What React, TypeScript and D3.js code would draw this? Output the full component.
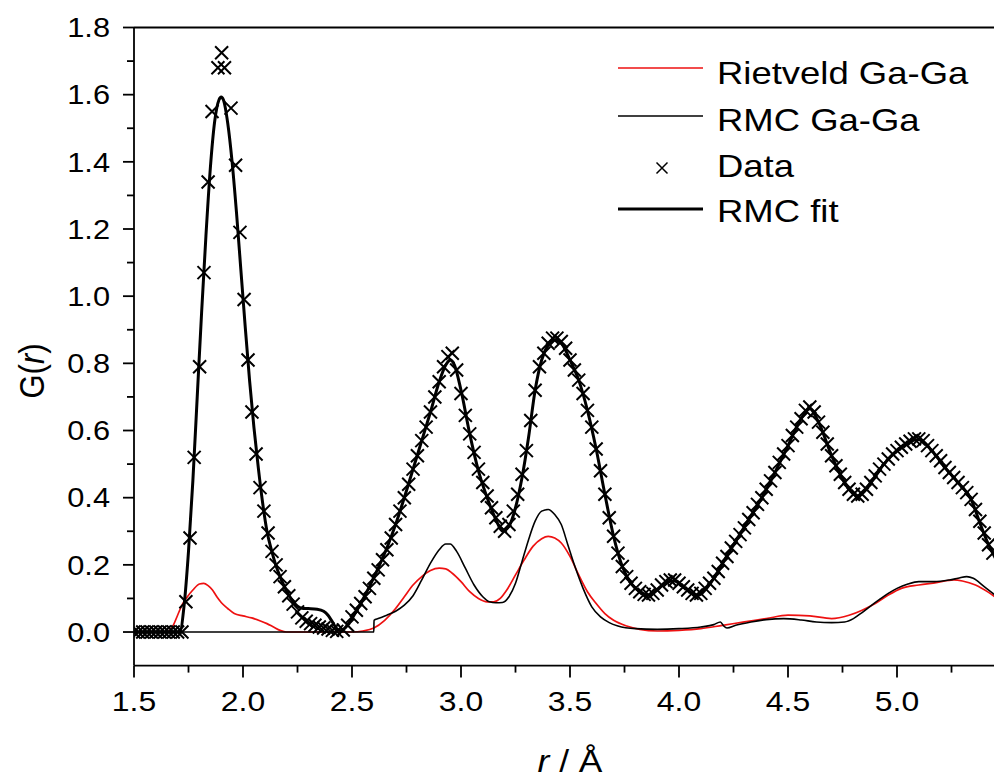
import React from 'react';
import * as d3 from 'd3';

// ---- axis ticks ----
const xMajorTicks = [1.5, 2.0, 2.5, 3.0, 3.5, 4.0, 4.5, 5.0];
const xMajorLabels = ['1.5', '2.0', '2.5', '3.0', '3.5', '4.0', '4.5', '5.0'];
const xMinorTicks = [1.75, 2.25, 2.75, 3.25, 3.75, 4.25, 4.75, 5.25];
const yMajorTicks = [0, 0.2, 0.4, 0.6, 0.8, 1.0, 1.2, 1.4, 1.6, 1.8];
const yMajorLabels = ['0.0', '0.2', '0.4', '0.6', '0.8', '1.0', '1.2', '1.4', '1.6', '1.8'];
const yMinorTicks = [0.1, 0.3, 0.5, 0.7, 0.9, 1.1, 1.3, 1.5, 1.7];

// ---- Data: measured G(r) ----
const dataR = [
  1.50, 1.52, 1.54, 1.56, 1.58, 1.60, 1.62, 1.64, 1.66, 1.68, 1.70, 1.72,
  1.738, 1.757, 1.776, 1.801, 1.821, 1.840, 1.858, 1.885, 1.902, 1.915, 1.945, 1.966,
  1.986, 2.005, 2.023, 2.041, 2.060, 2.078, 2.096, 2.115, 2.133, 2.152,
  2.17, 2.19, 2.21, 2.23, 2.25, 2.27, 2.29, 2.31, 2.33, 2.35, 2.37, 2.39, 2.41, 2.43,
  2.46, 2.48, 2.50, 2.52, 2.54, 2.56, 2.58, 2.60, 2.62, 2.64, 2.66, 2.68, 2.70, 2.72,
  2.74, 2.76, 2.78, 2.80, 2.82, 2.84, 2.86, 2.88, 2.90, 2.92, 2.94, 2.96, 2.98, 3.00,
  3.02, 3.04, 3.06, 3.08, 3.10, 3.12, 3.14, 3.16, 3.18, 3.20, 3.22, 3.24, 3.26, 3.28,
  3.30, 3.32, 3.34, 3.36, 3.38, 3.40, 3.42, 3.44, 3.46, 3.48, 3.50, 3.52, 3.54, 3.56,
  3.58, 3.60, 3.62, 3.64, 3.66, 3.68, 3.70, 3.72, 3.74, 3.76, 3.78, 3.80, 3.82, 3.84,
  3.86, 3.88, 3.90, 3.92, 3.94, 3.96, 3.98, 4.00, 4.02, 4.04, 4.06, 4.08, 4.10, 4.12,
  4.14, 4.16, 4.18, 4.20, 4.22, 4.24, 4.26, 4.28, 4.30, 4.32, 4.34, 4.36, 4.38, 4.40,
  4.42, 4.44, 4.46, 4.48, 4.50, 4.52, 4.54, 4.56, 4.58, 4.60, 4.62, 4.64, 4.66, 4.68,
  4.70, 4.72, 4.74, 4.76, 4.78, 4.80, 4.82, 4.84, 4.86, 4.88, 4.90, 4.92, 4.94, 4.96,
  4.98, 5.00, 5.02, 5.04, 5.06, 5.08, 5.10, 5.12, 5.14, 5.16, 5.18, 5.20, 5.22, 5.24,
  5.26, 5.28, 5.30, 5.32, 5.34, 5.36, 5.38, 5.40, 5.42, 5.44,
];
const dataG = [
  0, 0, 0, 0, 0, 0, 0, 0, 0, 0, 0, 0,
  0.09, 0.28, 0.52, 0.79, 1.07, 1.34, 1.55, 1.68, 1.725, 1.68, 1.56, 1.39,
  1.19, 0.99, 0.81, 0.655, 0.53, 0.43, 0.36, 0.295, 0.24, 0.20,
  0.165, 0.135, 0.108, 0.083, 0.06, 0.042, 0.032, 0.025, 0.02, 0.015, 0.012, 0.009, 0.005, 0.002,
  0.006, 0.02, 0.045, 0.065, 0.085, 0.105, 0.13, 0.16, 0.185, 0.215, 0.245, 0.28, 0.32, 0.36,
  0.40, 0.44, 0.485, 0.525, 0.57, 0.61, 0.655, 0.70, 0.745, 0.79, 0.82, 0.83, 0.78, 0.71,
  0.645, 0.59, 0.535, 0.485, 0.445, 0.405, 0.37, 0.34, 0.315, 0.30, 0.32, 0.36, 0.41, 0.47,
  0.54, 0.63, 0.72, 0.79, 0.83, 0.86, 0.875, 0.875, 0.865, 0.845, 0.81, 0.78, 0.75, 0.71,
  0.66, 0.61, 0.545, 0.48, 0.41, 0.34, 0.285, 0.235, 0.195, 0.165, 0.145, 0.13, 0.12, 0.112,
  0.11, 0.115, 0.125, 0.14, 0.15, 0.155, 0.155, 0.145, 0.135, 0.125, 0.115, 0.11, 0.115, 0.13,
  0.145, 0.16, 0.18, 0.205, 0.225, 0.25, 0.27, 0.29, 0.31, 0.335, 0.355, 0.38, 0.40, 0.425,
  0.45, 0.475, 0.505, 0.53, 0.555, 0.585, 0.61, 0.635, 0.66, 0.67, 0.655, 0.625, 0.595, 0.56,
  0.525, 0.495, 0.47, 0.445, 0.425, 0.41, 0.405, 0.41, 0.425, 0.445, 0.465, 0.485, 0.50, 0.515,
  0.53, 0.54, 0.55, 0.56, 0.568, 0.575, 0.575, 0.57, 0.555, 0.54, 0.525, 0.51, 0.49, 0.475,
  0.46, 0.445, 0.43, 0.415, 0.395, 0.365, 0.33, 0.295, 0.26, 0.235,
];

// ---- RMC fit ----
const fitR = [
  1.50, 1.70, 1.71, 1.73, 1.75, 1.77, 1.79, 1.81, 1.83, 1.85, 1.87, 1.89, 1.90, 1.91,
  1.93, 1.95, 1.97, 1.99, 2.01, 2.03, 2.05, 2.07, 2.09, 2.11, 2.13, 2.15, 2.17, 2.19,
  2.21, 2.23, 2.25, 2.27, 2.30, 2.34, 2.37, 2.39, 2.41, 2.43, 2.45, 2.47, 2.50, 2.54,
  2.58, 2.62, 2.66, 2.70, 2.74, 2.78, 2.82, 2.86, 2.90, 2.93, 2.95, 2.97, 3.00, 3.04,
  3.08, 3.12, 3.16, 3.19, 3.22, 3.25, 3.28, 3.31, 3.34, 3.37, 3.40, 3.43, 3.46, 3.50,
  3.54, 3.58, 3.62, 3.66, 3.70, 3.74, 3.78, 3.82, 3.86, 3.90, 3.94, 3.98, 4.02, 4.06,
  4.09, 4.12, 4.16, 4.20, 4.26, 4.32, 4.38, 4.44, 4.50, 4.56, 4.60, 4.64, 4.70, 4.76,
  4.82, 4.88, 4.94, 5.00, 5.06, 5.10, 5.16, 5.22, 5.28, 5.34, 5.38, 5.42, 5.46,
];
const fitG = [
  0, 0, 0.0, 0.08, 0.24, 0.45, 0.70, 0.95, 1.18, 1.38, 1.52, 1.585, 1.593, 1.585,
  1.515, 1.40, 1.25, 1.08, 0.91, 0.75, 0.61, 0.49, 0.385, 0.30, 0.245, 0.20, 0.165, 0.135,
  0.11, 0.09, 0.077, 0.071, 0.07, 0.068, 0.062, 0.05, 0.03, 0.01, 0.004, 0.014, 0.04, 0.085,
  0.135, 0.19, 0.25, 0.32, 0.40, 0.485, 0.57, 0.655, 0.745, 0.795, 0.81, 0.795, 0.72, 0.59,
  0.48, 0.40, 0.335, 0.30, 0.315, 0.37, 0.46, 0.58, 0.72, 0.81, 0.855, 0.87, 0.86, 0.81,
  0.75, 0.66, 0.545, 0.41, 0.285, 0.195, 0.145, 0.12, 0.11, 0.125, 0.148, 0.152, 0.135, 0.115,
  0.11, 0.125, 0.16, 0.205, 0.27, 0.335, 0.40, 0.475, 0.555, 0.635, 0.665, 0.625, 0.525, 0.445,
  0.405, 0.445, 0.50, 0.54, 0.568, 0.573, 0.54, 0.49, 0.445, 0.395, 0.325, 0.26, 0.21,
];

// ---- Rietveld Ga-Ga partial ----
const rietR = [
  1.50, 1.65, 1.68, 1.70, 1.72, 1.745, 1.77, 1.80, 1.82, 1.84, 1.86, 1.88, 1.90, 1.93,
  1.96, 2.00, 2.04, 2.08, 2.11, 2.14, 2.17, 2.20, 2.30, 2.40, 2.50, 2.55, 2.60, 2.65,
  2.70, 2.74, 2.78, 2.82, 2.86, 2.90, 2.93, 2.96, 3.00, 3.04, 3.08, 3.12, 3.15, 3.18,
  3.21, 3.25, 3.29, 3.33, 3.37, 3.40, 3.43, 3.46, 3.50, 3.54, 3.58, 3.62, 3.66, 3.70,
  3.76, 3.82, 3.90, 4.00, 4.10, 4.20, 4.30, 4.40, 4.50, 4.60, 4.70, 4.78, 4.84, 4.90,
  4.96, 5.02, 5.10, 5.18, 5.26, 5.30, 5.36, 5.42, 5.46,
];
const rietG = [
  0, 0, 0.02, 0.05, 0.08, 0.105, 0.125, 0.143, 0.145, 0.138, 0.125, 0.105, 0.088, 0.07,
  0.055, 0.048, 0.042, 0.033, 0.025, 0.015, 0.005, 0.0, 0.0, 0.0, 0.0, 0.003, 0.012, 0.035,
  0.07, 0.105, 0.14, 0.165, 0.183, 0.19, 0.188, 0.175, 0.15, 0.12, 0.10, 0.09, 0.09, 0.10,
  0.125, 0.17, 0.215, 0.255, 0.278, 0.285, 0.28, 0.265, 0.225, 0.17, 0.12, 0.085, 0.055, 0.035,
  0.018, 0.008, 0.003, 0.005, 0.01, 0.02, 0.03, 0.04, 0.05, 0.048, 0.04, 0.05, 0.065, 0.085,
  0.11, 0.13, 0.14, 0.147, 0.155, 0.152, 0.14, 0.118, 0.10,
];

// ---- RMC Ga-Ga partial ----
const rmcR = [
  1.50, 2.60, 2.601, 2.62, 2.66, 2.70, 2.74, 2.78, 2.82, 2.86, 2.90, 2.93, 2.95, 2.98,
  3.02, 3.06, 3.10, 3.13, 3.16, 3.19, 3.22, 3.25, 3.28, 3.31, 3.34, 3.37, 3.40, 3.43,
  3.46, 3.49, 3.52, 3.56, 3.60, 3.64, 3.68, 3.72, 3.80, 3.90, 4.00, 4.10, 4.16, 4.19,
  4.205, 4.22, 4.26, 4.33, 4.40, 4.48, 4.56, 4.63, 4.70, 4.76, 4.80, 4.84, 4.88, 4.92,
  4.96, 5.00, 5.05, 5.10, 5.17, 5.24, 5.28, 5.32, 5.35, 5.40, 5.44, 5.46,
];
const rmcG = [
  0, 0, 0.035, 0.04, 0.05, 0.062, 0.08, 0.108, 0.155, 0.205, 0.245, 0.262, 0.262, 0.24,
  0.19, 0.14, 0.105, 0.09, 0.087, 0.088, 0.105, 0.145, 0.21, 0.275, 0.33, 0.36, 0.365, 0.35,
  0.32, 0.26, 0.20, 0.13, 0.075, 0.045, 0.028, 0.018, 0.01, 0.008, 0.01, 0.015, 0.022, 0.03,
  0.018, 0.012, 0.02, 0.03, 0.037, 0.04, 0.036, 0.03, 0.028, 0.03, 0.04, 0.058, 0.078, 0.097,
  0.115, 0.13, 0.143, 0.15, 0.15, 0.155, 0.16, 0.165, 0.16, 0.135, 0.115, 0.105,
];

const legendLabels = ['Rietveld Ga-Ga', 'RMC Ga-Ga', 'Data', 'RMC fit'];

const FONT = '"Liberation Sans", Arial, Helvetica, sans-serif';
const SX = 1.14; // horizontal text stretch

const W = 994;
const H = 779;
const PL = 134;
const PR = 1006;
const PT = 27.5;
const PB = 665.6;

function SText(props: {
  x: number; y: number; size: number; anchor?: string; rotate?: boolean; children: React.ReactNode;
}) {
  const { x, y, size, anchor = 'start', rotate = false, children } = props;
  const t = rotate
    ? `translate(${x},${y}) rotate(-90) scale(1,${SX})`
    : `translate(${x},${y}) scale(${SX},1)`;
  return (
    <g transform={t}>
      <text textAnchor={anchor as any} fontSize={size} fontFamily={FONT} fill="#000">
        {children}
      </text>
    </g>
  );
}

export default function App() {
  const x = d3.scaleLinear().domain([1.5, 5.5]).range([PL, PR]);
  const y = d3.scaleLinear().domain([-0.1, 1.8]).range([PB, PT]);

  const mkLine = (rs: number[], gs: number[]) =>
    d3
      .line<number>()
      .x((_, i) => x(rs[i]))
      .y((g) => y(g))
      .curve(d3.curveMonotoneX)(gs) || '';

  const rietPath = mkLine(rietR, rietG);
  const rmcPath = mkLine(rmcR, rmcG);
  const fitPath = mkLine(fitR, fitG);

  const s = 6.5;
  const cross = `M${-s},${-s}L${s},${s}M${-s},${s}L${s},${-s}`;
  const sL = 5.5;
  const crossLegend = `M${-sL},${-sL}L${sL},${sL}M${-sL},${sL}L${sL},${-sL}`;

  const legendTextX = 717;
  const legendBase = [84, 130.5, 177, 222];

  return (
    <svg
      width={W}
      height={H}
      style={{ position: 'absolute', left: 0, top: 0, background: '#fff' }}
    >
      <defs>
        <clipPath id="plotClip">
          <rect x={PL} y={PT - 10} width={PR - PL} height={PB - PT + 10} />
        </clipPath>
      </defs>
      <rect x={0} y={0} width={W} height={H} fill="#fff" />

      <g clipPath="url(#plotClip)">
        <path d={rietPath} fill="none" stroke="#ee1111" strokeWidth={1.7} />
        <path d={rmcPath} fill="none" stroke="#000" strokeWidth={1.6} />
        <g>
          {dataG.map((g, i) => (
            <path
              key={i}
              d={cross}
              transform={`translate(${x(dataR[i])},${y(g)})`}
              stroke="#000"
              strokeWidth={2}
              fill="none"
            />
          ))}
        </g>
        <path d={fitPath} fill="none" stroke="#000" strokeWidth={3} strokeLinejoin="round" />
      </g>

      {/* frame */}
      <g stroke="#000" strokeWidth={1.8} fill="none">
        <line x1={PL} y1={PT} x2={W} y2={PT} />
        <line x1={PL} y1={PT} x2={PL} y2={PB} />
        <line x1={PL} y1={PB} x2={W} y2={PB} />
        {xMajorTicks.map((t) => (
          <line key={'xM' + t} x1={x(t)} x2={x(t)} y1={PB} y2={PB + 12} />
        ))}
        {xMinorTicks.map((t) => (
          <line key={'xm' + t} x1={x(t)} x2={x(t)} y1={PB} y2={PB + 7} />
        ))}
        {yMajorTicks.map((t) => (
          <line key={'yM' + t} x1={PL - 11} x2={PL} y1={y(t)} y2={y(t)} />
        ))}
        {yMinorTicks.map((t) => (
          <line key={'ym' + t} x1={PL - 7} x2={PL} y1={y(t)} y2={y(t)} />
        ))}
      </g>

      {xMajorTicks.map((t, i) => (
        <SText key={'xl' + t} x={x(t)} y={711} size={28} anchor="middle">
          {xMajorLabels[i]}
        </SText>
      ))}
      {yMajorTicks.map((t, i) => (
        <SText key={'yl' + t} x={110} y={y(t) + 9.7} size={27} anchor="end">
          {yMajorLabels[i]}
        </SText>
      ))}

      <SText x={x(3.5)} y={772} size={31} anchor="middle">
        <tspan fontStyle="italic">r</tspan>
        <tspan> / Å</tspan>
      </SText>
      <SText x={44} y={371} size={31} anchor="middle" rotate>
        <tspan>G(</tspan>
        <tspan fontStyle="italic">r</tspan>
        <tspan>)</tspan>
      </SText>

      {/* legend */}
      <line x1={618} x2={703} y1={68} y2={68} stroke="#ee1111" strokeWidth={1.7} />
      <line x1={618} x2={703} y1={116} y2={116} stroke="#000" strokeWidth={1.6} />
      <path d={crossLegend} transform="translate(662,168)" stroke="#000" strokeWidth={1.5} fill="none" />
      <line x1={618} x2={703} y1={209} y2={209} stroke="#000" strokeWidth={3} />
      {legendLabels.map((l, i) => (
        <SText key={l} x={legendTextX} y={legendBase[i]} size={32}>
          {l}
        </SText>
      ))}
    </svg>
  );
}
